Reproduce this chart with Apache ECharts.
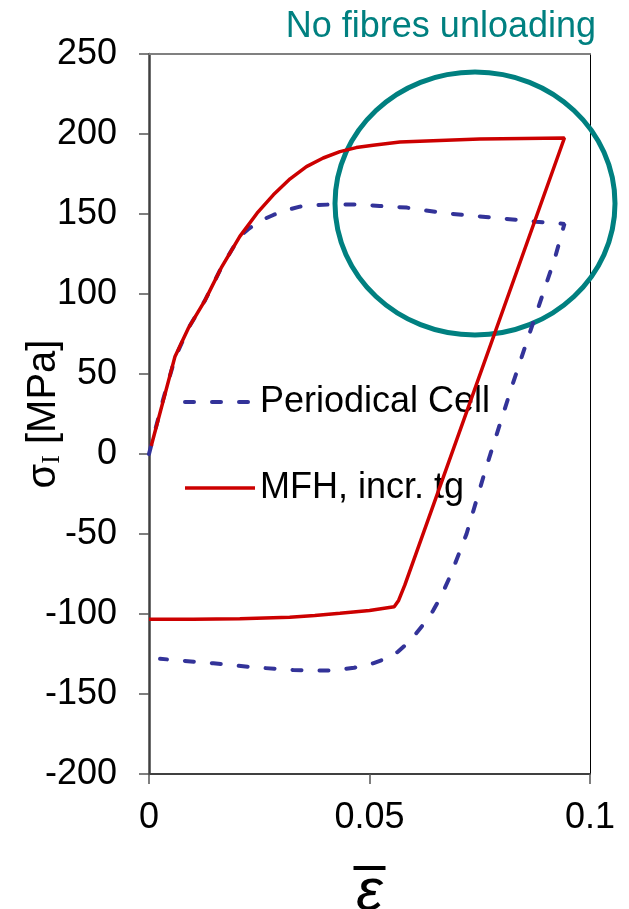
<!DOCTYPE html>
<html>
<head>
<meta charset="utf-8">
<script src="https://cdn.jsdelivr.net/npm/echarts@6/dist/echarts.min.js"></script>
<style>
  html, body { margin: 0; padding: 0; background: #fff; }
  #chart { width: 629px; height: 909px; }
</style>
</head>
<body>
<div id="chart"></div>
<script>
// Periodical Cell (dashed blue)
const strainPC = [0, 0.0032, 0.0059, 0.009, 0.0127, 0.0165, 0.0206, 0.0225, 0.0245, 0.0265, 0.0282, 0.031, 0.0342, 0.038, 0.0418, 0.047, 0.0523, 0.0584, 0.0674, 0.0778, 0.0878, 0.0942,
  0.092, 0.0871, 0.0825, 0.0765, 0.072, 0.0685, 0.0664, 0.0644, 0.0625, 0.0606, 0.0585, 0.0565, 0.0538, 0.0508, 0.0465, 0.0418, 0.0327, 0.0236, 0.0146, 0.0025];
const stressPC = [0, 34, 60, 79, 96, 117, 136, 140.5, 144.5, 147.3, 149.4, 152.3, 154.6, 155.6, 156, 156, 155, 154, 150.4, 147.8, 145.2, 143.8,
  122, 82, 44, -8, -50, -75, -88, -98, -105.5, -112, -118.5, -123.5, -127.8, -130.8, -133.6, -135.4, -135, -133.3, -130.8, -128];

// MFH, incr. tg (solid red)
const strainMFH = [0.0005, 0.0059, 0.009, 0.0127, 0.0165, 0.0206, 0.0245, 0.0282, 0.032, 0.0357, 0.0395, 0.0433, 0.047, 0.0508, 0.0569, 0.0659, 0.075, 0.085, 0.0942,
  0.058, 0.0566, 0.0556, 0.05, 0.0433, 0.0376, 0.0319, 0.0206, 0.01, 0];
const stressMFH = [5, 61, 79, 96, 117, 136, 150.5, 162, 172, 179.6, 185, 189, 191.5, 193, 195, 196, 196.8, 197.2, 197.5,
  -82, -91.5, -95.5, -97.8, -99.6, -101, -102, -103, -103.3, -103.3];

const seriesNames = ['Periodical Cell', 'MFH, incr. tg'];
const seriesColors = ['#333399', '#cc0000'];

const pairs = (xs, ys) => xs.map((x, i) => [x, ys[i]]);
const font = 'Liberation Sans, Arial, sans-serif';

const dashedLine = { color: seriesColors[0], width: 4, type: [9, 18], cap: 'round' };
const solidLine = { color: seriesColors[1], width: 3.5 };

const myChart = echarts.init(document.getElementById('chart'));

const option = {
  animation: false,
  title: {
    text: 'No fibres unloading',
    right: 28,
    top: 4,
    textStyle: { color: '#008080', fontSize: 36, fontWeight: 'normal', fontFamily: font }
  },
  legend: {
    data: [
      { name: seriesNames[0], lineStyle: dashedLine },
      { name: seriesNames[1], lineStyle: solidLine }
    ],
    orient: 'vertical',
    left: 178,
    top: 379,
    itemWidth: 70,
    itemHeight: 14,
    itemGap: 50,
    itemStyle: { opacity: 0 },
    textStyle: { color: '#000', fontSize: 36, fontFamily: font }
  },
  grid: { left: 149, right: 39, top: 54, bottom: 135, outerBoundsMode: 'none', containLabel: false },
  xAxis: [{
    type: 'value',
    min: 0, max: 0.1, interval: 0.05,
    splitLine: { show: false },
    axisLine: { onZero: false, lineStyle: { color: '#404040', width: 2 } },
    axisTick: { length: 10, lineStyle: { color: '#555', width: 1.5 } },
    axisLabel: { color: '#000', fontSize: 36, fontFamily: font, margin: 26 },
    name: '{b| }\n{e|ε}',
    nameLocation: 'middle',
    nameGap: 92,
    nameMoveOverlap: false,
    nameTextStyle: {
      rich: {
        b: { backgroundColor: '#000', width: 32, height: 4, fontSize: 4, lineHeight: 4 },
        e: { fontSize: 60, fontStyle: 'italic', fontFamily: font, color: '#000', lineHeight: 46 }
      }
    }
  }, {
    type: 'value',
    position: 'top',
    min: 0, max: 0.1,
    splitLine: { show: false },
    axisLine: { onZero: false, lineStyle: { color: '#808080', width: 2 } },
    axisTick: { show: false },
    axisLabel: { show: false }
  }],
  yAxis: [{
    type: 'value',
    min: -200, max: 250, interval: 50,
    splitLine: { show: false },
    axisLine: { onZero: false, lineStyle: { color: '#404040', width: 2.5 } },
    axisTick: { length: 10, lineStyle: { color: '#555', width: 1.5 } },
    axisLabel: { color: '#000', fontSize: 36, fontFamily: font, margin: 32 },
    name: '{s|σ}{sub|I}{u| [MPa]}',
    nameLocation: 'middle',
    nameGap: 84,
    nameMoveOverlap: false,
    nameTextStyle: {
      rich: {
        s: { fontSize: 40, fontFamily: font, color: '#000' },
        sub: { fontSize: 26, fontFamily: 'Liberation Serif, serif', color: '#000', verticalAlign: 'bottom', padding: [16, 0, 0, 0] },
        u: { fontSize: 40, fontFamily: font, color: '#000' }
      }
    }
  }, {
    type: 'value',
    position: 'right',
    min: -200, max: 250,
    splitLine: { show: false },
    axisLine: { onZero: false, lineStyle: { color: '#000', width: 1 } },
    axisTick: { show: false },
    axisLabel: { show: false }
  }],
  graphic: [{
    type: 'ellipse',
    shape: { cx: 475, cy: 203.5, rx: 140, ry: 131.5 },
    style: { fill: 'none', stroke: '#008080', lineWidth: 5 },
    z: 1
  }],
  series: [{
    name: seriesNames[0],
    type: 'line',
    data: pairs(strainPC, stressPC),
    showSymbol: false,
    symbol: 'none',
    color: seriesColors[0],
    lineStyle: dashedLine,
    z: 3
  }, {
    name: seriesNames[1],
    type: 'line',
    data: pairs(strainMFH, stressMFH),
    showSymbol: false,
    symbol: 'none',
    color: seriesColors[1],
    lineStyle: solidLine,
    z: 4
  }]
};

myChart.setOption(option);
</script>
</body>
</html>
